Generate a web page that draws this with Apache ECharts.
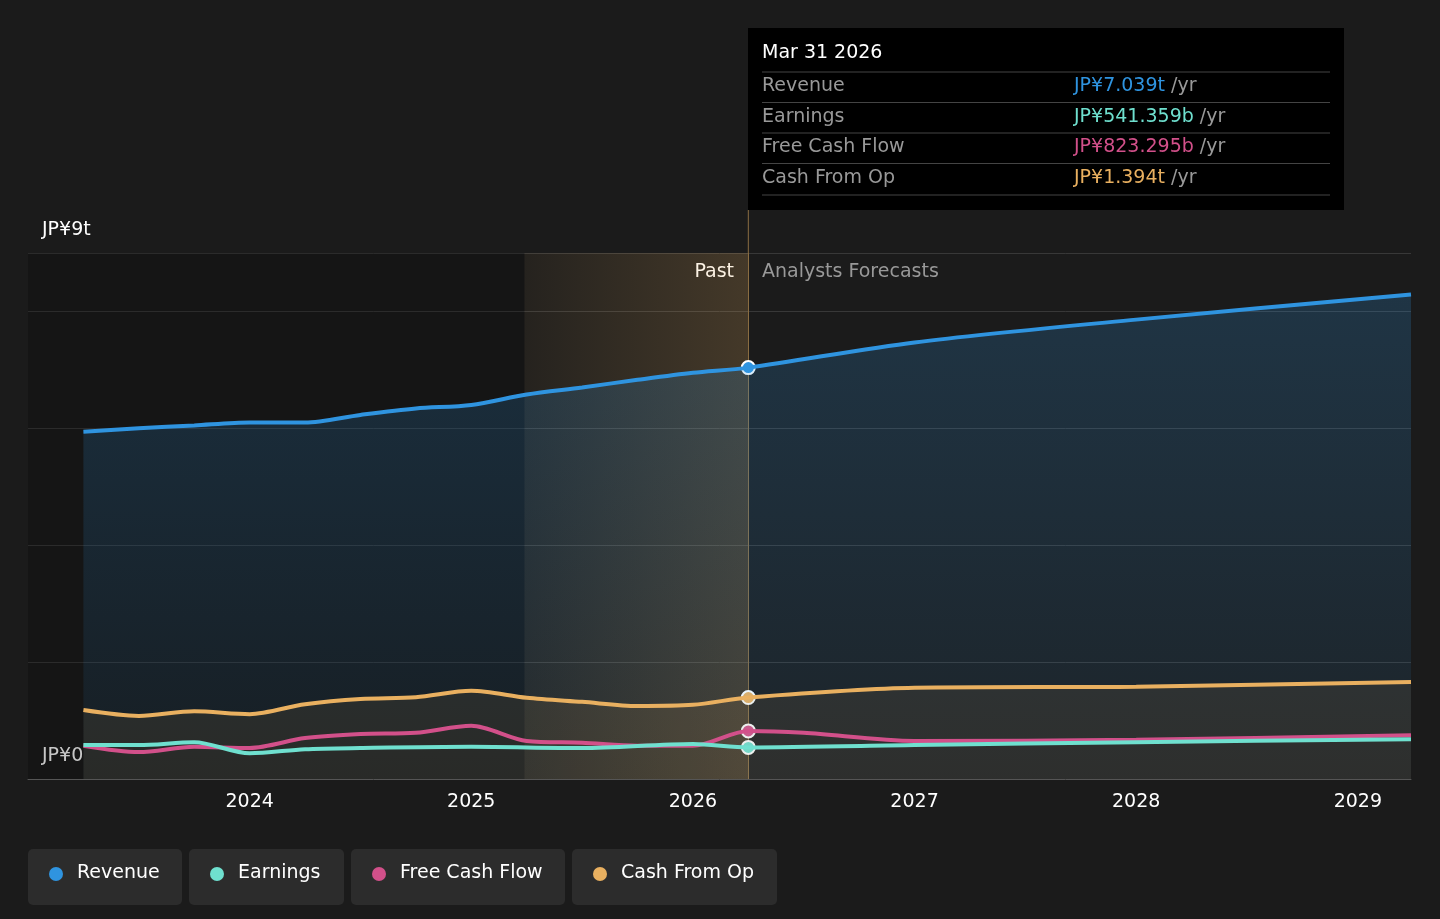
<!DOCTYPE html>
<html><head><meta charset="utf-8">
<script src="https://cdn.jsdelivr.net/npm/echarts@6/dist/echarts.min.js"></script>
<style>html,body{margin:0;background:#1b1b1b}#main{width:1440px;height:919px}</style>
</head><body><div id="main"></div>
<script>
var revenue = [[2023.25,5.94],[2023.5,6.0],[2023.75,6.05],[2024,6.1],[2024.25,6.1],[2024.5,6.23],[2024.75,6.34],[2025,6.4],[2025.25,6.58],[2025.5,6.7],[2025.75,6.83],[2026,6.95],[2026.25,7.039],[2027,7.47],[2028,7.86],[2029.24,8.29]];
var earnings = [[2023.25,0.58],[2023.5,0.58],[2023.75,0.63],[2024,0.44],[2024.25,0.51],[2024.5,0.53],[2025,0.55],[2025.5,0.53],[2026,0.6],[2026.25,0.541],[2027,0.58],[2028,0.63],[2029.24,0.68]];
var fcf = [[2023.25,0.57],[2023.5,0.46],[2023.75,0.55],[2024,0.53],[2024.25,0.7],[2024.5,0.77],[2024.75,0.79],[2025,0.91],[2025.25,0.65],[2025.5,0.62],[2025.75,0.57],[2026,0.57],[2026.25,0.823],[2026.5,0.79],[2027,0.65],[2028,0.67],[2029.24,0.75]];
var cashOp = [[2023.25,1.18],[2023.5,1.08],[2023.75,1.16],[2024,1.11],[2024.25,1.28],[2024.5,1.37],[2024.75,1.4],[2025,1.51],[2025.25,1.39],[2025.5,1.32],[2025.75,1.25],[2026,1.27],[2026.25,1.394],[2027,1.56],[2028,1.58],[2029.24,1.66]];
var yearTicks = [2024,2025,2026,2027,2028,2029];
var tipRows = [['Revenue','JP¥7.039t','#2f94e0'],['Earnings','JP¥541.359b','#6fe0cf'],['Free Cash Flow','JP¥823.295b','#d2508a'],['Cash From Op','JP¥1.394t','#e9b060']];
var legendItems = [['Revenue','#2f94e0',28,154],['Earnings','#6fe0cf',189,155],['Free Cash Flow','#d2508a',351,214],['Cash From Op','#e9b060',572,205]];

var F = '19px "DejaVu Sans"';
var chart = echarts.init(document.getElementById('main'));
function line(name, data, color, area, z) {
  var s = {name:name,type:'line',data:data,smooth:0.3,showSymbol:false,z:z,
    lineStyle:{color:color,width:4},itemStyle:{color:color},
    markPoint:{symbol:'circle',symbolSize:13,label:{show:false},
      itemStyle:{color:color,borderColor:'#fff',borderWidth:2},
      data:[{coord:data.find(function(d){return d[0]===2026.25;})}]}};
  if (area) s.areaStyle = {color:area};
  return s;
}
var graphics = [
  {type:'text',left:42,top:221,style:{text:'JP¥9t',fill:'#fff',font:F}},
  {type:'text',left:42,top:747,style:{text:'JP¥0',fill:'#fff',font:F}},
  {type:'text',right:1440-734,top:263,style:{text:'Past',fill:'#fff',font:F,textAlign:'right'}},
  {type:'text',left:762,top:263,style:{text:'Analysts Forecasts',fill:'#999',font:F}},
  {type:'rect',shape:{x:748,y:28,width:596,height:182},style:{fill:'#000'}},
  {type:'text',left:762,top:44,style:{text:'Mar 31 2026',fill:'#fff',font:F}}
];
tipRows.forEach(function(r,i){
  var y = 72 + i*30.5;
  graphics.push({type:'line',shape:{x1:762,y1:y,x2:1330,y2:y},style:{stroke:'#444',lineWidth:1}});
  graphics.push({type:'text',left:762,top:y+5,style:{text:r[0],fill:'#999',font:F}});
  graphics.push({type:'text',left:1074,top:y+5,style:{rich:{v:{fill:r[2],font:F},u:{fill:'#999',font:F}},text:'{v|'+r[1]+'}{u| /yr}'}});
});
graphics.push({type:'line',shape:{x1:762,y1:195,x2:1330,y2:195},style:{stroke:'#444',lineWidth:1}});
legendItems.forEach(function(l){
  graphics.push({type:'rect',shape:{x:l[2],y:849,width:l[3],height:56,r:5},style:{fill:'#2c2c2c'}});
  graphics.push({type:'circle',shape:{cx:l[2]+28,cy:874,r:7},style:{fill:l[1]}});
  graphics.push({type:'text',left:l[2]+49,top:864,style:{text:l[0],fill:'#fff',font:F}});
});

var option = {
  backgroundColor:'#1b1b1b',
  animation:false,
  grid:{left:28,right:29,top:253,bottom:140},
  xAxis:{type:'value',min:2023,max:2029.24,interval:1,
    axisLine:{lineStyle:{color:'#555'}},axisTick:{show:false},splitLine:{show:false},
    axisLabel:{color:'#fff',fontSize:19,margin:14,fontFamily:'DejaVu Sans',
      formatter:function(v){return yearTicks.indexOf(v)>=0?String(v):'';}}},
  yAxis:{type:'value',min:0,max:9,interval:2,axisLabel:{show:false},axisLine:{show:false},axisTick:{show:false},
    splitLine:{lineStyle:{color:'#383838'},showMinLine:false,showMaxLine:true}},
  graphic:graphics,
  series:[
    Object.assign(line('Revenue',revenue,'#2f94e0',
      new echarts.graphic.LinearGradient(0,0,0,1,[{offset:0,color:'rgba(47,148,224,0.3)'},{offset:1,color:'rgba(47,148,224,0.1)'}]),5),
      {markArea:{silent:true,data:[
        [{xAxis:2023,itemStyle:{color:'rgba(0,0,0,0.22)'}},{xAxis:2025.24}],
        [{xAxis:2025.24,itemStyle:{color:new echarts.graphic.LinearGradient(0,0,1,0,[{offset:0,color:'rgba(233,176,96,0.05)'},{offset:1,color:'rgba(233,176,96,0.2)'}])}},{xAxis:2026.25}]
      ]},
      markLine:{silent:true,symbol:'none',label:{show:false},lineStyle:{color:'#8a6d42',type:'solid',width:1},data:[{xAxis:2026.25}]}}),
    line('Cash From Op',cashOp,'#e9b060','rgba(233,176,96,0.12)',6),
    line('Free Cash Flow',fcf,'#d2508a',null,7),
    line('Earnings',earnings,'#6fe0cf',null,8)
  ]
};
chart.setOption(option);
var px = chart.convertToPixel({xAxisIndex:0,yAxisIndex:0},[2026.25,9]);
chart.setOption({graphic:graphics.concat([{type:'line',shape:{x1:px[0],y1:210,x2:px[0],y2:253},style:{stroke:'#8a6d42',lineWidth:1}}])});
</script></body></html>
